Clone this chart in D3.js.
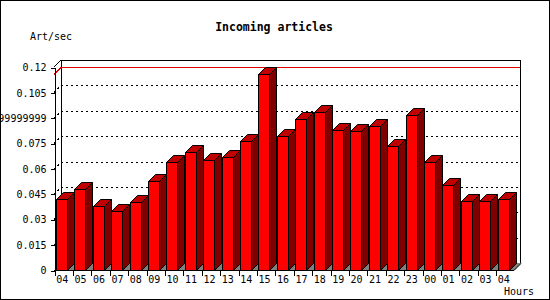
<!DOCTYPE html>
<html>
<head>
<meta charset="utf-8">
<script src="https://cdn.jsdelivr.net/npm/d3@7"></script>
<style>
  body { margin: 0; background: #fff; }
  text { font-family: "DejaVu Sans Mono", monospace; font-size: 10px; fill: #000; }
</style>
</head>
<body>
<svg id="chart" width="550" height="300"></svg>
<script>
// hours on the x axis (last 24h, wrapping)
const hours = ["04", "05", "06", "07", "08", "09", "10", "11", "12", "13", "14", "15",
  "16", "17", "18", "19", "20", "21", "22", "23", "00", "01", "02", "03", "04"]

// articles per second for each hour
const artPerSec = [0.0418, 0.0477, 0.0376, 0.0347, 0.0400, 0.0524, 0.0637, 0.0696, 0.0648,
  0.0666, 0.0763, 0.1159, 0.0792, 0.0892, 0.0932, 0.0828, 0.0822, 0.0851, 0.0733, 0.0914,
  0.0637, 0.0501, 0.0406, 0.0406, 0.0418]

const yTicks = [0, 0.015, 0.03, 0.045, 0.06, 0.075, 0.09, 0.105, 0.12]
const yTickLabels = ["0", "0.015", "0.03", "0.045", "0.06", "0.075", "0.08999999999999999", "0.105", "0.12"]

const config = {
  width: 550,
  height: 300,
  left: 54,
  right: 514,
  top: 67,
  bottom: 270,
  depth: 7,
  barOffset: 2,
  barWidth: 11,
  colors: { front: "#ff0000", top: "#c00000", side: "#800000", floor: "#808080" }
}

const svg = d3.select("#chart")
const d = config.depth

svg.append("rect")
  .attr("x", 0.5).attr("y", 0.5)
  .attr("width", config.width - 1).attr("height", config.height - 1)
  .attr("fill", "#fff").attr("stroke", "#000")

const xScale = d3.scaleBand()
  .domain(d3.range(hours.length))
  .range([config.left, config.right])
  .padding(0)

const yScale = d3.scaleLinear()
  .domain([0, 0.12])
  .range([config.bottom, config.top])

const root = svg.append("g").attr("shape-rendering", "crispEdges")

// floor
root.append("path")
  .attr("d", `M${config.left},${config.bottom}L${config.left + d},${config.bottom - d}` +
    `L${config.right + d},${config.bottom - d}L${config.right},${config.bottom}Z`)
  .attr("fill", config.colors.floor)

// back wall frame
root.append("path")
  .attr("d", `M${config.left},${yScale(0.12)}L${config.left + d},${yScale(0.12) - d}` +
    `L${config.right + 6},${yScale(0.12) - d}L${config.right + 6},${config.bottom - d}`)
  .attr("fill", "none").attr("stroke", "#000")
root.append("line")
  .attr("x1", config.left + d + 0.5).attr("x2", config.left + d + 0.5)
  .attr("y1", yScale(0.12) - d).attr("y2", config.bottom - d)
  .attr("stroke", "#000")

// dotted grid on the back wall
const grid = yTicks.filter(v => v > 0 && v < 0.12)
root.selectAll(".grid")
  .data(grid)
  .enter()
  .append("path")
  .attr("class", "grid")
  .attr("d", v => `M${config.left},${Math.round(yScale(v)) + 0.5}L${config.left + d},${Math.round(yScale(v)) - d + 0.5}` +
    `L${config.right + 6},${Math.round(yScale(v)) - d + 0.5}`)
  .attr("fill", "none")
  .attr("stroke", "#000")
  .attr("stroke-dasharray", "2,3")

// max line
const maxVal = d3.max(artPerSec)
root.append("path")
  .attr("d", `M${config.left},${Math.round(yScale(maxVal)) + 0.5}L${config.left + d},${Math.round(yScale(maxVal)) - d + 0.5}` +
    `L${config.right + 6},${Math.round(yScale(maxVal)) - d + 0.5}`)
  .attr("fill", "none")
  .attr("stroke", "#e00000")

// bars
const bars = svg.append("g")
  .selectAll(".bar")
  .data(artPerSec)
  .enter()
  .append("g")
  .attr("class", "bar")

const bx = (v, i) => Math.round(xScale(i)) + config.barOffset + 0.5
const by = v => Math.round(yScale(v)) + 0.5
const base = config.bottom + 0.5
const w = config.barWidth

bars.append("path")
  .attr("d", (v, i) => `M${bx(v, i) + w},${by(v)}L${bx(v, i) + w + d},${by(v) - d}` +
    `L${bx(v, i) + w + d},${base - d}L${bx(v, i) + w},${base}Z`)
  .attr("fill", config.colors.side)
  .attr("stroke", "#000")

bars.append("path")
  .attr("d", (v, i) => `M${bx(v, i)},${by(v)}L${bx(v, i) + d},${by(v) - d}` +
    `L${bx(v, i) + w + d},${by(v) - d}L${bx(v, i) + w},${by(v)}Z`)
  .attr("fill", config.colors.top)
  .attr("stroke", "#000")

bars.append("rect")
  .attr("x", (v, i) => bx(v, i))
  .attr("y", v => by(v))
  .attr("width", w)
  .attr("height", v => base - by(v))
  .attr("fill", config.colors.front)
  .attr("stroke", "#000")

// y axis
const yAxis = d3.axisLeft(yScale)
  .tickValues(yTicks)
  .tickFormat((v, i) => yTickLabels[i])
  .tickSize(4)
  .tickSizeOuter(0)

const yg = svg.append("g")
  .attr("transform", `translate(${config.left + 0.5},0.5)`)
  .attr("shape-rendering", "crispEdges")
  .call(yAxis)
yg.selectAll("text").attr("x", -8)
yg.attr("font-family", null).attr("font-size", null)

// x axis: boundary ticks + labels
const xBounds = d3.scaleLinear().domain([0, hours.length]).range([config.left, config.right])
const xg = svg.append("g")
  .attr("transform", `translate(0.5,${config.bottom + 0.5})`)
  .attr("shape-rendering", "crispEdges")
  .call(d3.axisBottom(xBounds).tickValues(d3.range(hours.length)).tickFormat("").tickSize(5).tickSizeOuter(0))
xg.select(".domain").remove()

svg.append("line")
  .attr("x1", config.left).attr("x2", config.right)
  .attr("y1", config.bottom + 0.5).attr("y2", config.bottom + 0.5)
  .attr("stroke", "#000")
svg.append("line")
  .attr("x1", config.right).attr("x2", config.right + d)
  .attr("y1", config.bottom + 0.5).attr("y2", config.bottom - d + 0.5)
  .attr("stroke", "#000")

const xl = svg.append("g")
  .attr("transform", `translate(-1,${config.bottom})`)
  .call(d3.axisBottom(xScale).tickFormat(i => hours[i]).tickSize(0).tickPadding(6))
xl.select(".domain").remove()
xl.attr("font-family", null).attr("font-size", null)

// titles
svg.append("text")
  .attr("x", 274).attr("y", 31)
  .attr("text-anchor", "middle")
  .style("font-weight", "bold")
  .style("font-size", "11.5px")
  .text("Incoming articles")

svg.append("text")
  .attr("x", 30).attr("y", 40)
  .text("Art/sec")

svg.append("text")
  .attr("x", 534).attr("y", 295)
  .attr("text-anchor", "end")
  .text("Hours")
</script>
</body>
</html>
